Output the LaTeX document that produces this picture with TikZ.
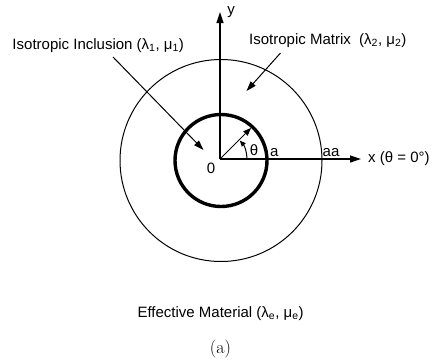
\documentclass[tikz,border=0pt]{standalone}
\usepackage{fontspec}
\newfontfamily\lsans{Liberation Sans}
\usetikzlibrary{arrows.meta}
\begin{document}
\begin{tikzpicture}[x=1pt,y=-1pt,
  lbl/.style={font=\lsans\fontsize{15}{18}\selectfont, inner sep=0pt},
  axis/.style={line width=1.2pt, -{Triangle[length=11pt,width=7pt]}},
  ptr/.style={line width=1pt, -{Triangle[length=10pt,width=6.5pt]}},
  rad/.style={line width=1pt, -{Triangle[length=8pt,width=6pt]}},
  angarc/.style={line width=1pt, -{Triangle[length=6pt,width=5pt]}}]
\useasboundingbox (0,0) rectangle (437,362);
\coordinate (O) at (220,159);
\coordinate (C) at (221,160.5);
\coordinate (ytip) at (220,12);
\coordinate (xtip) at (361,159);
\coordinate (p1s) at (113,57);
\coordinate (p1e) at (203.5,150);
\coordinate (p2s) at (280.5,53);
\coordinate (p2e) at (246.5,91);
% circles
\draw[line width=1pt] (C) circle[radius=101];
\draw[line width=3.4pt] (C) circle[radius=46];
% axes
\draw[axis] (O) -- (ytip);
\draw[axis] (O) -- (xtip);
% radius and angle
\draw[rad] (O) -- ++(-45:44) coordinate (rtip);
\draw[angarc] (O) ++(0:27) arc[start angle=0,end angle=-43,radius=27];
% pointers
\draw[ptr] (p1s) -- (p1e);
\draw[ptr] (p2s) -- (p2e);
% labels
\node[lbl, anchor=base west] (incl) at (12.3,49.3) {Isotropic Inclusion (λ\textsubscript{1}, μ\textsubscript{1})};
\node[lbl, anchor=base west] (matx) at (249,44) {Isotropic Matrix\ \ (λ\textsubscript{2}, μ\textsubscript{2})};
\node[lbl, anchor=base] (eff) at (220.6,317.7) {Effective Material (λ\textsubscript{e}, μ\textsubscript{e})};
\node[lbl, anchor=base west] (xlab) at (368,162.7) {x (θ = 0°)};
\node[lbl, anchor=base west] (alab) at (270,156) {a};
\node[lbl, anchor=base west] (aalab) at (322.5,156) {aa};
\node[lbl] (th) at (254,150) {θ};
\node[lbl] (zero) at (211,168) {0};
\node[lbl] (ylab) at (231,12) {y};
\node[font=\fontsize{18}{21}\selectfont, inner sep=0pt, anchor=base] (cap) at (220.5,353) {(a)};
\end{tikzpicture}
\end{document}
